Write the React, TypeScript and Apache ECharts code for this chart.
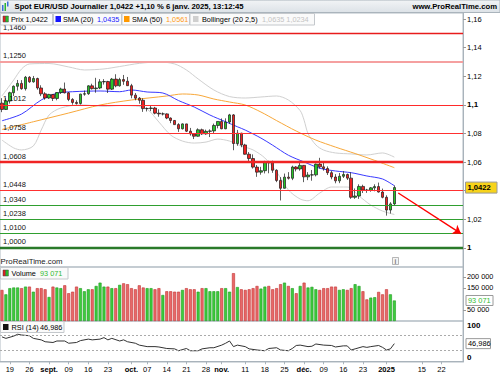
import React, { useEffect, useRef } from 'react';
import * as echarts from 'echarts';

const FONT = '"Liberation Sans", Arial, sans-serif';

const HOLIDAYS = ['2024-12-25', '2025-01-01'];
function tradingDays(start: string, count: number): string[] {
  const out: string[] = [];
  const d = new Date(start + 'T00:00:00Z');
  while (out.length < count) {
    const wd = d.getUTCDay();
    const s = d.toISOString().slice(0, 10);
    if (wd !== 0 && wd !== 6 && HOLIDAYS.indexOf(s) < 0) out.push(s);
    d.setUTCDate(d.getUTCDate() + 1);
  }
  return out;
}
const dates = tradingDays('2024-08-15', 118);

const xTickLabels: Record<string, string> = {
  '2024-08-19': '19', '2024-08-26': '26', '2024-09-02': 'sept.', '2024-09-09': '09',
  '2024-09-16': '16', '2024-09-23': '23', '2024-10-01': 'oct.', '2024-10-07': '07',
  '2024-10-14': '14', '2024-10-21': '21', '2024-10-28': '28', '2024-11-01': 'nov.',
  '2024-11-11': '11', '2024-11-18': '18', '2024-11-25': '25', '2024-12-02': 'déc.',
  '2024-12-09': '09', '2024-12-16': '16', '2024-12-23': '23', '2025-01-02': '2025',
  '2025-01-15': '15', '2025-01-22': '22',
};
const boldTicks = ['sept.', 'oct.', 'nov.', 'déc.', '2025'];

const priceTicks = [1.0, 1.02, 1.04, 1.06, 1.08, 1.1, 1.12, 1.14, 1.16];
const priceTickLabels = [1.0, 1.02, 1.06, 1.08, 1.1, 1.12, 1.14, 1.16];
const volumeTicks = [0, 50000, 150000, 200000];
const rsiTicks = [0, 100];

const opens = [
  1.1012, 1.0968, 1.1027, 1.1085, 1.1130, 1.1150, 1.1113, 1.1193, 1.1161, 1.1184,
  1.1118, 1.1077, 1.1048, 1.1073, 1.1045, 1.1086, 1.1111, 1.1084, 1.1038, 1.1017,
  1.1010, 1.1075, 1.1078, 1.1133, 1.1113, 1.1118, 1.1161, 1.1163, 1.1110, 1.1180,
  1.1133, 1.1177, 1.1165, 1.1134, 1.1068, 1.1047, 1.1032, 1.0974, 1.0975, 1.0978,
  1.0942, 1.0937, 1.0937, 1.0908, 1.0891, 1.0862, 1.0833, 1.0867, 1.0816, 1.0797,
  1.0781, 1.0826, 1.0797, 1.0815, 1.0818, 1.0856, 1.0884, 1.0833, 1.0880, 1.0930,
  1.0730, 1.0802, 1.0720, 1.0655, 1.0625, 1.0565, 1.0530, 1.0540, 1.0597, 1.0596,
  1.0543, 1.0472, 1.0417, 1.0495, 1.0487, 1.0566, 1.0552, 1.0577, 1.0497, 1.0510,
  1.0511, 1.0586, 1.0567, 1.0555, 1.0526, 1.0496, 1.0469, 1.0501, 1.0513, 1.0488,
  1.0354, 1.0363, 1.0430, 1.0405, 1.0403, 1.0420, 1.0429, 1.0391, 1.0354, 1.0265,
  1.0308,
];
const highs = [
  1.1047, 1.1047, 1.1092, 1.1136, 1.1174, 1.1173, 1.1202, 1.1201, 1.1202, 1.1190,
  1.1137, 1.1089, 1.1077, 1.1075, 1.1089, 1.1120, 1.1156, 1.1090, 1.1047, 1.1032,
  1.1078, 1.1100, 1.1137, 1.1148, 1.1189, 1.1180, 1.1180, 1.1168, 1.1188, 1.1214,
  1.1189, 1.1209, 1.1195, 1.1147, 1.1083, 1.1055, 1.1046, 1.0982, 1.0998, 1.0986,
  1.0969, 1.0947, 1.0941, 1.0912, 1.0894, 1.0872, 1.0871, 1.0868, 1.0839, 1.0802,
  1.0836, 1.0834, 1.0827, 1.0829, 1.0869, 1.0885, 1.0905, 1.0906, 1.0937, 1.0936,
  1.0825, 1.0805, 1.0728, 1.0670, 1.0654, 1.0580, 1.0567, 1.0609, 1.0609, 1.0610,
  1.0550, 1.0495, 1.0520, 1.0530, 1.0575, 1.0572, 1.0597, 1.0580, 1.0530, 1.0545,
  1.0590, 1.0630, 1.0594, 1.0570, 1.0540, 1.0516, 1.0524, 1.0537, 1.0520, 1.0528,
  1.0416, 1.0445, 1.0442, 1.0413, 1.0425, 1.0445, 1.0457, 1.0415, 1.0368, 1.0320,
  1.0437,
];
const lows = [
  1.0949, 1.0964, 1.1009, 1.1062, 1.1100, 1.1106, 1.1100, 1.1154, 1.1155, 1.1106,
  1.1061, 1.1036, 1.1042, 1.1027, 1.1032, 1.1076, 1.1080, 1.1026, 1.1001, 1.1002,
  1.1002, 1.1064, 1.1070, 1.1107, 1.1085, 1.1110, 1.1142, 1.1083, 1.1104, 1.1123,
  1.1128, 1.1140, 1.1133, 1.1046, 1.1032, 1.1008, 1.0951, 1.0954, 1.0956, 1.0934,
  1.0917, 1.0926, 1.0900, 1.0872, 1.0861, 1.0811, 1.0828, 1.0810, 1.0785, 1.0761,
  1.0778, 1.0790, 1.0791, 1.0775, 1.0799, 1.0836, 1.0830, 1.0830, 1.0868, 1.0683,
  1.0714, 1.0704, 1.0652, 1.0594, 1.0555, 1.0497, 1.0512, 1.0521, 1.0522, 1.0525,
  1.0460, 1.0332, 1.0415, 1.0478, 1.0474, 1.0535, 1.0540, 1.0460, 1.0474, 1.0470,
  1.0500, 1.0555, 1.0540, 1.0510, 1.0480, 1.0452, 1.0453, 1.0489, 1.0475, 1.0343,
  1.0343, 1.0343, 1.0384, 1.0385, 1.0393, 1.0396, 1.0387, 1.0347, 1.0226, 1.0241,
  1.0300,
];
const closes = [
  1.0968, 1.1027, 1.1085, 1.1130, 1.1150, 1.1113, 1.1193, 1.1161, 1.1184, 1.1118,
  1.1077, 1.1048, 1.1073, 1.1045, 1.1086, 1.1111, 1.1084, 1.1038, 1.1017, 1.1010,
  1.1075, 1.1078, 1.1133, 1.1113, 1.1118, 1.1161, 1.1163, 1.1110, 1.1180, 1.1133,
  1.1177, 1.1165, 1.1134, 1.1068, 1.1047, 1.1032, 1.0974, 1.0975, 1.0978, 1.0942,
  1.0937, 1.0937, 1.0908, 1.0891, 1.0862, 1.0833, 1.0867, 1.0816, 1.0797, 1.0781,
  1.0826, 1.0797, 1.0815, 1.0818, 1.0856, 1.0884, 1.0833, 1.0880, 1.0930, 1.0730,
  1.0802, 1.0720, 1.0655, 1.0625, 1.0565, 1.0530, 1.0540, 1.0597, 1.0596, 1.0543,
  1.0472, 1.0417, 1.0495, 1.0487, 1.0566, 1.0552, 1.0577, 1.0497, 1.0510, 1.0511,
  1.0586, 1.0567, 1.0555, 1.0526, 1.0496, 1.0469, 1.0501, 1.0513, 1.0488, 1.0354,
  1.0363, 1.0430, 1.0405, 1.0403, 1.0420, 1.0429, 1.0391, 1.0354, 1.0265, 1.0308,
  1.0422,
];
const volumes = [
  141000, 121000, 149000, 152000, 152000, 149000, 156000, 156000, 133000, 149000,
  149000, 144000, 109000, 156000, 152000, 149000, 162000, 126000, 133000, 156000,
  149000, 135000, 144000, 144000, 159000, 174000, 156000, 156000, 149000, 149000,
  164000, 171000, 167000, 149000, 144000, 162000, 152000, 149000, 149000, 144000,
  149000, 118000, 135000, 135000, 133000, 133000, 141000, 149000, 144000, 144000,
  133000, 149000, 149000, 135000, 135000, 135000, 149000, 149000, 133000, 217000,
  154000, 144000, 141000, 144000, 149000, 159000, 147000, 156000, 159000, 144000,
  149000, 167000, 174000, 159000, 149000, 126000, 159000, 174000, 152000, 155000,
  144000, 141000, 149000, 149000, 156000, 156000, 141000, 144000, 141000, 149000,
  167000, 159000, 135000, 98000, 106000, 108000, 132000, 121000, 144000, 121000,
  93071,
];

const sma20Pts: [number, number][] = [
  [0, 1.0889], [5, 1.0936], [10, 1.1034], [14, 1.1081], [18, 1.1092], [25, 1.1097],
  [30, 1.1092], [33, 1.1104], [37, 1.1090], [41, 1.1083], [45, 1.1030], [49, 1.0985],
  [53, 1.0929], [57, 1.0882], [60, 1.0847], [62, 1.0824], [66, 1.0768], [69, 1.0718],
  [73, 1.0648], [77, 1.0601], [81, 1.0557], [85, 1.0538], [89, 1.0526], [93, 1.0503],
  [97, 1.0482], [100, 1.0435],
];
const sma50Pts: [number, number][] = [
  [0, 1.0828], [8, 1.0882], [17, 1.0943], [25, 1.0999], [33, 1.1034], [42, 1.1062],
  [46, 1.1076], [50, 1.1069], [54, 1.1041], [58, 1.1020], [62, 1.0999], [66, 1.0950],
  [70, 1.0890], [75, 1.0817], [80, 1.0754], [85, 1.0705], [90, 1.0660], [95, 1.0612],
  [100, 1.0561],
];
const bollUpperPts: [number, number][] = [
  [0, 1.1062], [3, 1.1174], [5, 1.1251], [7, 1.1286], [12, 1.1289], [17, 1.1265],
  [21, 1.1244], [26, 1.1251], [30, 1.1268], [35, 1.1290], [40, 1.1300], [44, 1.1286],
  [47, 1.1244], [50, 1.1181], [54, 1.1104], [58, 1.1058], [62, 1.1048], [66, 1.1055],
  [70, 1.1062], [73, 1.1034], [76, 1.0960], [77, 1.0893], [78, 1.0800], [80, 1.0720],
  [82, 1.0684], [85, 1.0664], [89, 1.0657], [93, 1.0650], [97, 1.0664], [100, 1.0635],
];
const bollLowerPts: [number, number][] = [
  [0, 1.0754], [3, 1.0699], [5, 1.0685], [8, 1.0713], [10, 1.0824], [12, 1.0929],
  [15, 1.0978], [20, 1.1000], [26, 1.0990], [30, 1.0995], [34, 1.0992], [37, 1.0970],
  [40, 1.0880], [43, 1.0789], [46, 1.0747], [49, 1.0733], [52, 1.0740], [55, 1.0761],
  [58, 1.0747], [61, 1.0713], [64, 1.0685], [67, 1.0629], [70, 1.0531], [73, 1.0405],
  [76, 1.0342], [78, 1.0330], [81, 1.0384], [84, 1.0426], [88, 1.0426], [91, 1.0363],
  [94, 1.0300], [97, 1.0258], [100, 1.0234],
];
const rsiPts: [number, number][] = [
  [0, 65], [1, 61], [3, 67], [4, 72], [5, 70], [7, 68], [8, 61], [10, 57], [11, 52],
  [13, 50], [14, 54], [16, 54], [17, 48], [19, 50], [20, 55], [22, 59], [23, 57],
  [25, 59], [26, 63], [27, 57], [28, 61], [30, 54], [31, 57], [32, 52], [34, 48],
  [35, 43], [37, 39], [39, 39], [40, 38], [42, 34], [44, 33], [45, 28], [47, 34],
  [48, 28], [50, 28], [51, 33], [53, 36], [54, 36], [56, 43], [57, 48], [58, 54],
  [59, 39], [60, 43], [62, 39], [63, 33], [65, 30], [67, 28], [68, 34], [70, 36],
  [71, 30], [73, 28], [74, 34], [75, 42], [76, 43], [78, 39], [79, 40], [80, 46],
  [82, 43], [84, 42], [85, 38], [87, 41], [88, 41], [89, 30], [90, 33], [92, 39],
  [93, 37], [94, 39], [96, 42], [97, 37], [98, 30], [99, 33], [100, 46.986],
];

const levels = [1.146, 1.125, 1.1012, 1.0758, 1.0608, 1.0448, 1.034, 1.0238, 1.01, 1.0];
const levelColors = ['#e81c1c', '#f5a0a0', '#ff2a2a', '#ff3030', '#f02424', '#ff3030', '#2f9f2f', '#2f9f2f', '#2f9f2f', '#2a7a2a'];
const levelWidths = [1.4, 2.2, 1, 1, 2.4, 1, 1, 1, 1, 2.4];

const lastPrice = 1.0422;
const lastSma20 = 1.0435;
const lastSma50 = 1.0561;
const lastUpper = 1.0635;
const lastLower = 1.0234;
const lastVolume = 93071;
const lastRsi = 46.986;
const arrowStart: [number, number] = [101, 1.0384];
const arrowEnd: [number, number] = [117, 1.0100];

const comma = (v: number, d: number) => v.toFixed(d).replace('.', ',');
const thousands = (v: number) => String(v).replace(/\B(?=(\d{3})+(?!\d))/g, ' ');
const priceText = (v: number) => v.toFixed(2).replace(/0+$/, '').replace(/\.$/, '').replace('.', ',');

function txt(x: number, y: number, text: string, o: any = {}) {
  return {
    type: 'text', x, y, z: 101, silent: true,
    style: {
      text, fill: o.fill || '#000', fontSize: o.size || 7.3, fontWeight: o.weight || 'normal',
      fontFamily: FONT, align: o.align || 'left', verticalAlign: 'middle',
      textAlign: o.align || 'left', textVerticalAlign: 'middle',
    },
  };
}
function box(x: number, y: number, w: number, h: number, fill: any, stroke?: string, lw = 1) {
  return { type: 'rect', z: 100, silent: true, shape: { x, y, width: w, height: h }, style: { fill, stroke: stroke || 'none', lineWidth: lw } };
}
function pts(p: [number, number][]) {
  return p.map(([i, v]) => [dates[i], v]);
}

type Px = { price: (v: number) => number; vol: (v: number) => number; rsi: (v: number) => number } | null;

function axisGraphics(px: Px): any[] {
  if (!px) return [];
  const out: any[] = [];
  priceTickLabels.forEach((v) => {
    const bold = Math.round(v * 100) % 10 === 0;
    out.push(txt(467, px.price(v), priceText(v), { size: bold ? 8 : 7.5, weight: bold ? 'bold' : 'normal' }));
  });
  const yp = px.price(lastPrice);
  out.push(box(465.5, yp - 5.5, 31.5, 11, '#f7d31a', '#9a9a9a'));
  out.push(txt(467.5, yp + 0.3, comma(lastPrice, 4), { size: 7.6, weight: 'bold' }));
  const yv = px.vol(lastVolume);
  out.push(box(466, yv - 5, 27, 10, '#ffffff', '#9a9a9a'));
  out.push(txt(468, yv + 0.3, thousands(lastVolume), { size: 7.4, fill: '#33bb33' }));
  const yr = px.rsi(lastRsi);
  out.push(box(466, yr - 5, 24.5, 10, '#ffffff', '#9a9a9a'));
  out.push(txt(468, yr + 0.3, comma(lastRsi, 3), { size: 7.4 }));
  return out;
}

function buildOption(px: Px): any {
  const candleData = closes.map((c, i) => [opens[i], c, lows[i], highs[i]]);
  const volData = volumes.map((v, i) => {
    const up = closes[i] >= opens[i];
    return {
      value: v,
      itemStyle: { color: up ? '#3dcc3d' : '#e86868', borderColor: up ? '#1f9a1f' : '#c23232', borderWidth: 0.6 },
    };
  });
  const gridStyle = { show: true, borderColor: '#b1bbc3', borderWidth: 1, left: 0, width: 463 };
  const xAxisBase = (gi: number) => ({
    type: 'category', gridIndex: gi, data: dates, boundaryGap: true,
    axisLine: { show: gi === 2, lineStyle: { color: '#a9b3bb' } },
    axisTick: {
      show: gi === 2, length: 3, alignWithLabel: true, lineStyle: { color: '#a9b3bb' },
      interval: (_i: number, v: string) => !!xTickLabels[v],
    },
    axisLabel: {
      show: gi === 2, fontSize: 7.5, color: '#000', fontFamily: FONT, margin: 3,
      interval: (_i: number, v: string) => !!xTickLabels[v],
      formatter: (v: string) => {
        const t = xTickLabels[v] || '';
        return boldTicks.indexOf(t) >= 0 ? '{b|' + t + '}' : t;
      },
      rich: { b: { fontWeight: 'bold', fontSize: 7.5, fontFamily: FONT, color: '#000' } },
    },
    splitLine: { show: false },
  });

  return {
    animation: false,
    backgroundColor: '#ffffff',
    textStyle: { fontFamily: FONT },
    grid: [
      { ...gridStyle, top: 13, height: 254 },
      { ...gridStyle, top: 267, height: 54 },
      { ...gridStyle, top: 321, height: 41 },
    ],
    xAxis: [xAxisBase(0), xAxisBase(1), xAxisBase(2)],
    yAxis: [
      {
        type: 'value', gridIndex: 0, position: 'right', min: 0.9867, max: 1.1642,
        axisLine: { show: true, lineStyle: { color: '#a9b3bb' } },
        axisTick: { show: true, length: 3, lineStyle: { color: '#999' }, customValues: priceTicks },
        splitLine: { show: false },
        axisLabel: { show: false },
      },
      {
        type: 'value', gridIndex: 1, position: 'right', min: 0, max: 245000,
        axisLine: { show: true, lineStyle: { color: '#a9b3bb' } },
        axisTick: { show: true, length: 3, lineStyle: { color: '#999' }, customValues: volumeTicks },
        splitLine: { show: false },
        axisLabel: {
          fontSize: 7.3, color: '#000', fontFamily: FONT, margin: 4,
          customValues: volumeTicks,
          formatter: (v: number) => (v === 0 ? '{z|0}' : thousands(v)),
          rich: { z: { fontWeight: 'bold', fontSize: 8, fontFamily: FONT, color: '#000', padding: [0, 0, 9, 0] } },
        },
      },
      {
        type: 'value', gridIndex: 2, position: 'right', min: -2, max: 107.33,
        axisLine: { show: true, lineStyle: { color: '#a9b3bb' } },
        axisTick: { show: false },
        splitLine: { show: false },
        axisLabel: {
          fontSize: 7.5, color: '#000', fontFamily: FONT, margin: 4,
          customValues: rsiTicks,
          formatter: (v: number) => (Math.abs(v) < 1e-6 ? '{z|0}' : '{h|100}'),
          rich: {
            z: { fontWeight: 'bold', fontSize: 8, fontFamily: FONT, color: '#000', padding: [0, 0, 8, 0] },
            h: { fontWeight: 'bold', fontSize: 8, fontFamily: FONT, color: '#000', padding: [4, 0, 0, 0] },
          },
        },
      },
    ],
    series: [
      {
        name: 'levels', type: 'line', xAxisIndex: 0, yAxisIndex: 0, data: [], z: 1, silent: true,
        markLine: {
          silent: true, symbol: 'none', animation: false,
          data: levels.map((v, i) => ({
            yAxis: v,
            lineStyle: { color: levelColors[i], width: levelWidths[i], type: 'solid' },
            label: {
              show: true, position: 'insideStartTop', formatter: comma(v, 4), color: '#111',
              fontSize: 7.5, fontFamily: FONT, distance: [3, 2],
            },
          })),
        },
      },
      {
        name: 'bollUp', type: 'line', xAxisIndex: 0, yAxisIndex: 0, data: pts(bollUpperPts), z: 2,
        symbol: 'none', smooth: 0.3, lineStyle: { color: '#d0d0d0', width: 1 }, silent: true,
      },
      {
        name: 'bollLow', type: 'line', xAxisIndex: 0, yAxisIndex: 0, data: pts(bollLowerPts), z: 2,
        symbol: 'none', smooth: 0.3, lineStyle: { color: '#d0d0d0', width: 1 }, silent: true,
      },
      {
        name: 'sma50', type: 'line', xAxisIndex: 0, yAxisIndex: 0, data: pts(sma50Pts), z: 2,
        symbol: 'none', smooth: 0.3, lineStyle: { color: '#f8a83a', width: 1 }, silent: true,
      },
      {
        name: 'sma20', type: 'line', xAxisIndex: 0, yAxisIndex: 0, data: pts(sma20Pts), z: 2,
        symbol: 'none', smooth: 0.3, lineStyle: { color: '#3a3aff', width: 1 }, silent: true,
      },
      {
        name: 'prix', type: 'candlestick', xAxisIndex: 0, yAxisIndex: 0, data: candleData, z: 3,
        barWidth: 3,
        itemStyle: { color: '#28c428', color0: '#ee2020', borderColor: '#1a1a1a', borderColor0: '#1a1a1a', borderWidth: 0.7 },
        markLine: {
          silent: true, symbol: ['none', 'arrow'], symbolSize: 8, animation: false,
          lineStyle: { color: '#ff0000', width: 1.4, type: 'solid' },
          label: { show: false },
          data: [[
            { coord: [dates[arrowStart[0]], arrowStart[1]] },
            { coord: [dates[arrowEnd[0]], arrowEnd[1]] },
          ]],
        },
      },
      {
        name: 'volume', type: 'bar', xAxisIndex: 1, yAxisIndex: 1, data: volData, barWidth: 3, z: 3,
        silent: true,
      },
      {
        name: 'rsi', type: 'line', xAxisIndex: 2, yAxisIndex: 2, data: pts(rsiPts), z: 3,
        symbol: 'none', lineStyle: { color: '#333', width: 1 }, silent: true,
        markLine: {
          silent: true, symbol: 'none', animation: false,
          data: [
            { yAxis: 70, lineStyle: { color: '#aaaaaa', width: 1, type: [2, 2] }, label: { show: false } },
            { yAxis: 30, lineStyle: { color: '#aaaaaa', width: 1, type: [2, 2] }, label: { show: false } },
          ],
        },
      },
    ],
    graphic: [
      box(0, 0, 500, 12.5, new echarts.graphic.LinearGradient(0, 0, 0, 1, [
        { offset: 0, color: '#f2f4f6' }, { offset: 1, color: '#dce2e7' },
      ]), '#aab4bc'),
      box(2, 5, 1.5, 6, '#3a6fd8'), box(4.5, 3, 1.5, 8, '#2db52d'), box(7, 1.5, 1.5, 5, '#3a6fd8'),
      txt(14.5, 6.5, 'Spot EUR/USD Journalier 1,0422 +1,10 % 6 janv. 2025, 13:12:45', { weight: 'bold', size: 7.7 }),
      txt(497, 6.5, 'www.ProRealTime.com', { weight: 'bold', size: 7.7, align: 'right' }),
      box(0.5, 13.5, 52, 11.5, '#fafafa', '#c4c8cc'),
      box(3, 16, 2.7, 6, '#e02020', '#444', 0.5), box(5.7, 16, 2.7, 6, '#28c428', '#444', 0.5),
      txt(11, 19.5, 'Prix ' + comma(lastPrice, 4)),
      box(53.5, 13.5, 68, 11.5, '#fafafa', '#c4c8cc'),
      box(55.5, 16, 5.5, 6, '#1414ff'),
      txt(63, 19.5, 'SMA (20)'), txt(97, 19.5, comma(lastSma20, 4), { fill: '#2424ff' }),
      box(122, 13.5, 67.5, 11.5, '#fafafa', '#c4c8cc'),
      box(124, 16, 5.5, 6, '#ff9900'),
      txt(132, 19.5, 'SMA (50)'), txt(166, 19.5, comma(lastSma50, 4), { fill: '#ff9a1a' }),
      box(190, 13.5, 124.5, 11.5, '#fafafa', '#c4c8cc'),
      box(193, 16, 5.5, 6, '#cfcfcf'),
      txt(202, 19.5, 'Bollinger (20 2,5)'),
      txt(262, 19.5, comma(lastUpper, 4) + ' ' + comma(lastLower, 4), { fill: '#c4c4c4' }),
      txt(0.5, 261.5, 'ProRealTime.com', { size: 7.8, fill: '#222' }),
      box(392.5, 257.5, 6, 7, '#f4f4f4', '#999', 0.7),
      txt(395.5, 261.2, 'i', { size: 6.5, fill: '#777', align: 'center', weight: 'bold' }),
      box(0.5, 267.5, 67.5, 11.5, '#fafafa', '#c4c8cc'),
      box(3, 270, 2.7, 6, '#e02020', '#444', 0.5), box(5.7, 270, 2.7, 6, '#28c428', '#444', 0.5),
      txt(11.5, 273.5, 'Volume'), txt(40, 273.5, thousands(lastVolume), { fill: '#33bb33' }),
      box(0.5, 321.5, 63.5, 11, '#fafafa', '#c4c8cc'),
      box(3, 324, 5.5, 6, '#111'),
      txt(11.5, 327.3, 'RSI (14)'), txt(40, 327.3, comma(lastRsi, 3)),
      ...axisGraphics(px),
    ],
  };
}

export default function App() {
  const ref = useRef<HTMLDivElement>(null);
  useEffect(() => {
    if (!ref.current) return;
    const chart = echarts.init(ref.current, null, { renderer: 'svg' });
    chart.setOption(buildOption(null));
    const conv = (idx: number) => (v: number) => Number(chart.convertToPixel({ yAxisIndex: idx } as any, v));
    const px = { price: conv(0), vol: conv(1), rsi: conv(2) };
    chart.setOption(buildOption(px), true);
    return () => chart.dispose();
  }, []);
  return <div ref={ref} style={{ position: 'fixed', left: 0, top: 0, width: 500, height: 375 }} />;
}
